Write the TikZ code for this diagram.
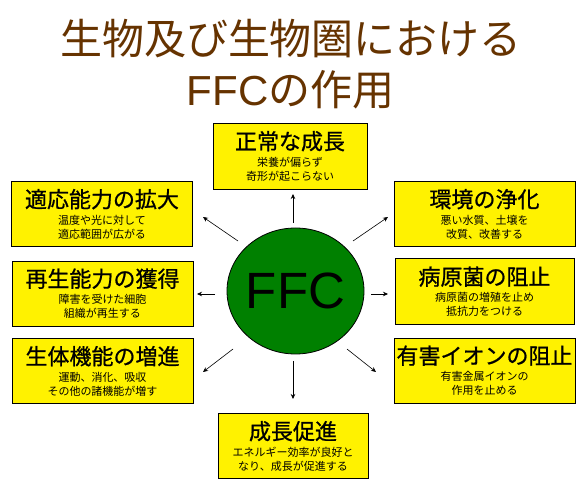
\documentclass[tikz,border=0pt]{standalone}
\usepackage{fontspec}
\setmainfont{Liberation Sans}
\newfontfamily\jpfont{Noto Sans CJK JP}
\newfontfamily\jpheadfont[FakeBold=0.8]{Noto Sans CJK JP}
\usetikzlibrary{arrows.meta}

\definecolor{titlebrown}{HTML}{663300}
\definecolor{ffcgreen}{HTML}{008000}

\newcommand{\effecthead}[1]{{\jpheadfont\fontsize{22}{22}\selectfont #1}\\[2.5pt]}

\tikzset{
  effect/.style={draw=black, fill=yellow, line width=0.8pt, align=center,
    inner sep=0pt, font=\jpfont\fontsize{11}{14}\selectfont,
    minimum width=181pt, minimum height=65pt},
  ray/.style={-{Stealth[length=5pt, width=4.5pt]}, line width=0.6pt},
}

\begin{document}
\begin{tikzpicture}[x=1pt, y=-1pt]

  \useasboundingbox[fill=white] (0,0) rectangle (587,489);

  % --- Title ---
  \node[font=\jpfont\fontsize{42}{42}\selectfont, text=titlebrown] (title1) at (291,39) {生物及び生物圏における};
  \node[font=\jpfont\fontsize{42}{42}\selectfont, text=titlebrown] (title2) at (290.5,90) {{\rmfamily FFC}の作用};

  % --- Centre ---
  \draw[fill=ffcgreen, line width=0.8pt] (295.5,291) ellipse (68.5 and 63);
  \node[font=\fontsize{51}{51}\selectfont] (ffc) at (295.5,291) {FFC};

  % --- Top and bottom ---
  \node[effect, minimum width=154pt, minimum height=66pt] (normal) at (290,156)
    {\effecthead{正常な成長}栄養が偏らず\\奇形が起こらない};
  \node[effect, minimum width=150pt] (growth) at (293,446)
    {\effecthead{成長促進}エネルギー効率が良好と\\なり、成長が促進する};

  % --- Left column ---
  \node[effect] (adapt) at (102,214)
    {\effecthead{適応能力の拡大}温度や光に対して\\適応範囲が広がる};
  \node[effect] (regen) at (102.5,293.5)
    {\effecthead{再生能力の獲得}障害を受けた細胞\\組織が再生する};
  \node[effect] (organ) at (102.5,371)
    {\effecthead{生体機能の増進}運動、消化、吸収\\その他の諸機能が増す};

  % --- Right column ---
  \node[effect] (clean) at (484.5,214)
    {\effecthead{環境の浄化}悪い水質、土壌を\\改質、改善する};
  \node[effect, minimum width=179pt, minimum height=66pt] (germ) at (484.5,291.5)
    {\effecthead{病原菌の阻止}病原菌の増殖を止め\\抵抗力をつける};
  \node[effect] (ion) at (484.5,370.5)
    {\effecthead{有害イオンの阻止}有害金属イオンの\\作用を止める};

  % --- Rays ---
  \coordinate (upS) at (293,223);  \coordinate (upE) at (293,194);
  \coordinate (ulS) at (238,241);  \coordinate (ulE) at (203,217);
  \coordinate (urS) at (353,241);  \coordinate (urE) at (388,217);
  \coordinate (lS)  at (215,294);  \coordinate (lE)  at (197,294);
  \coordinate (rS)  at (371,294);  \coordinate (rE)  at (388,294);
  \coordinate (llS) at (233,349);  \coordinate (llE) at (203,372);
  \coordinate (lrS) at (347,349);  \coordinate (lrE) at (376,372);
  \coordinate (dnS) at (293,361);  \coordinate (dnE) at (293,399);

  \draw[ray] (upS) -- (upE);
  \draw[ray] (ulS) -- (ulE);
  \draw[ray] (urS) -- (urE);
  \draw[ray] (lS) -- (lE);
  \draw[ray] (rS) -- (rE);
  \draw[ray] (llS) -- (llE);
  \draw[ray] (lrS) -- (lrE);
  \draw[ray] (dnS) -- (dnE);

\end{tikzpicture}
\end{document}
